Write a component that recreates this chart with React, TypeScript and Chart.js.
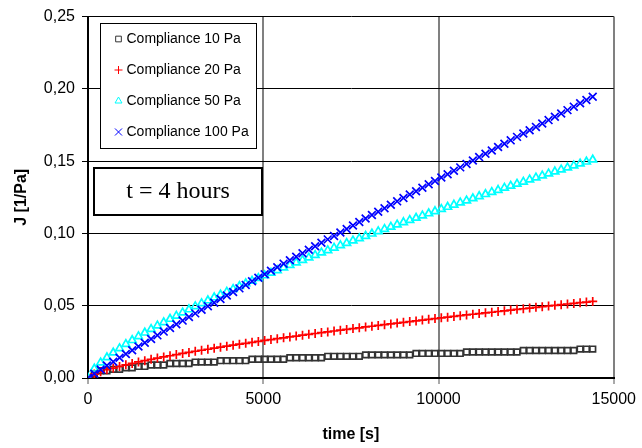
import React, { useEffect, useRef } from "react";
import { Chart, registerables } from "chart.js";

Chart.register(...registerables);

const times = [
  0, 180, 360, 540, 720, 900, 1080, 1260, 1440, 1620, 1800, 1980, 2160, 2340, 2520, 2700, 2880, 3060, 3240, 3420,
  3600, 3780, 3960, 4140, 4320, 4500, 4680, 4860, 5040, 5220, 5400, 5580, 5760, 5940, 6120, 6300, 6480, 6660, 6840, 7020,
  7200, 7380, 7560, 7740, 7920, 8100, 8280, 8460, 8640, 8820, 9000, 9180, 9360, 9540, 9720, 9900, 10080, 10260, 10440, 10620,
  10800, 10980, 11160, 11340, 11520, 11700, 11880, 12060, 12240, 12420, 12600, 12780, 12960, 13140, 13320, 13500, 13680, 13860, 14040, 14220,
  14400,
];

const compliance10 = [
  0, 0.003, 0.005, 0.005, 0.006, 0.006, 0.007, 0.007, 0.008, 0.008,
  0.009, 0.009, 0.009, 0.01, 0.01, 0.01, 0.01, 0.011, 0.011, 0.011,
  0.011, 0.012, 0.012, 0.012, 0.012, 0.012, 0.013, 0.013, 0.013, 0.013,
  0.013, 0.013, 0.014, 0.014, 0.014, 0.014, 0.014, 0.014, 0.015, 0.015,
  0.015, 0.015, 0.015, 0.015, 0.016, 0.016, 0.016, 0.016, 0.016, 0.016,
  0.016, 0.016, 0.017, 0.017, 0.017, 0.017, 0.017, 0.017, 0.017, 0.017,
  0.018, 0.018, 0.018, 0.018, 0.018, 0.018, 0.018, 0.018, 0.018, 0.019,
  0.019, 0.019, 0.019, 0.019, 0.019, 0.019, 0.019, 0.019, 0.02, 0.02,
  0.02,
];

const compliance20 = [
  0, 0.0027, 0.0043, 0.0057, 0.0069, 0.008, 0.0091, 0.0101, 0.0111, 0.012,
  0.0129, 0.0138, 0.0146, 0.0154, 0.0162, 0.017, 0.0177, 0.0185, 0.0192, 0.0199,
  0.0206, 0.0213, 0.022, 0.0227, 0.0234, 0.024, 0.0247, 0.0253, 0.026, 0.0266,
  0.0272, 0.0278, 0.0284, 0.029, 0.0296, 0.0302, 0.0308, 0.0314, 0.0319, 0.0325,
  0.0331, 0.0336, 0.0342, 0.0347, 0.0353, 0.0358, 0.0364, 0.0369, 0.0374, 0.038,
  0.0385, 0.039, 0.0395, 0.0401, 0.0406, 0.0411, 0.0416, 0.0421, 0.0426, 0.0431,
  0.0436, 0.0441, 0.0446, 0.0451, 0.0455, 0.046, 0.0465, 0.047, 0.0475, 0.0479,
  0.0484, 0.0489, 0.0493, 0.0498, 0.0503, 0.0507, 0.0512, 0.0516, 0.0521, 0.0525,
  0.053,
];

const compliance50 = [
  0, 0.0064, 0.0106, 0.0142, 0.0175, 0.0205, 0.0234, 0.0261, 0.0288, 0.0313,
  0.0338, 0.0362, 0.0385, 0.0408, 0.043, 0.0452, 0.0474, 0.0495, 0.0516, 0.0536,
  0.0557, 0.0576, 0.0596, 0.0615, 0.0635, 0.0654, 0.0672, 0.0691, 0.0709, 0.0727,
  0.0745, 0.0763, 0.0781, 0.0798, 0.0815, 0.0833, 0.085, 0.0867, 0.0883, 0.09,
  0.0917, 0.0933, 0.095, 0.0966, 0.0982, 0.0998, 0.1014, 0.103, 0.1045, 0.1061,
  0.1077, 0.1092, 0.1107, 0.1123, 0.1138, 0.1153, 0.1168, 0.1183, 0.1198, 0.1213,
  0.1227, 0.1242, 0.1257, 0.1271, 0.1286, 0.13, 0.1315, 0.1329, 0.1343, 0.1357,
  0.1372, 0.1386, 0.14, 0.1414, 0.1428, 0.1441, 0.1455, 0.1469, 0.1483, 0.1496,
  0.151,
];

const compliance100 = [
  0, 0.003, 0.0059, 0.0086, 0.0113, 0.014, 0.0166, 0.0192, 0.0218, 0.0244,
  0.027, 0.0295, 0.0321, 0.0346, 0.0372, 0.0397, 0.0422, 0.0447, 0.0472, 0.0497,
  0.0521, 0.0546, 0.0571, 0.0595, 0.062, 0.0644, 0.0669, 0.0693, 0.0718, 0.0742,
  0.0766, 0.0791, 0.0815, 0.0839, 0.0863, 0.0887, 0.0911, 0.0935, 0.0959, 0.0983,
  0.1007, 0.1031, 0.1055, 0.1079, 0.1103, 0.1127, 0.115, 0.1174, 0.1198, 0.1222,
  0.1245, 0.1269, 0.1292, 0.1316, 0.134, 0.1363, 0.1387, 0.141, 0.1434, 0.1457,
  0.1481, 0.1504, 0.1528, 0.1551, 0.1574, 0.1598, 0.1621, 0.1644, 0.1668, 0.1691,
  0.1714, 0.1737, 0.1761, 0.1784, 0.1807, 0.183, 0.1853, 0.1877, 0.19, 0.1923,
  0.1946,
];

const seriesLabels = ["Compliance 10 Pa", "Compliance 20 Pa", "Compliance 50 Pa", "Compliance 100 Pa"];
const xTickLabels = ["0", "5000", "10000", "15000"];
const yTickLabels = ["0,00", "0,05", "0,10", "0,15", "0,20", "0,25"];
const xTitle = "time [s]";
const yTitle = "J [1/Pa]";
const annotationText = "t = 4 hours";

const SANS = '"Liberation Sans", Arial, sans-serif';
const SERIF = '"Liberation Serif", "Times New Roman", serif';

const seriesStyles = [
  { style: "rect", color: "#333333", radius: 4, order: 3 },
  { style: "cross", color: "#ff0000", radius: 4.5, order: 2 },
  { style: "triangle", color: "#00ffff", radius: 4.5, order: 1 },
  { style: "crossRot", color: "#0000ff", radius: 5.5, order: 0 },
];

function drawMarker(ctx: CanvasRenderingContext2D, style: string, x: number, y: number, r: number, color: string) {
  ctx.save();
  ctx.strokeStyle = color;
  ctx.lineWidth = 1;
  ctx.beginPath();
  if (style === "rect") {
    const s = Math.SQRT1_2 * r;
    ctx.rect(x - s, y - s, 2 * s, 2 * s);
  } else if (style === "cross") {
    ctx.moveTo(x - r, y);
    ctx.lineTo(x + r, y);
    ctx.moveTo(x, y - r);
    ctx.lineTo(x, y + r);
  } else if (style === "triangle") {
    ctx.moveTo(x, y - r);
    ctx.lineTo(x + r * 0.866, y + r * 0.5);
    ctx.lineTo(x - r * 0.866, y + r * 0.5);
    ctx.closePath();
  } else {
    const d = r * Math.SQRT1_2;
    ctx.moveTo(x - d, y - d);
    ctx.lineTo(x + d, y + d);
    ctx.moveTo(x + d, y - d);
    ctx.lineTo(x - d, y + d);
  }
  ctx.stroke();
  ctx.restore();
}

const overlayPlugin = {
  id: "overlayBoxes",
  afterDraw(chart: any) {
    const ctx: CanvasRenderingContext2D = chart.ctx;
    ctx.save();
    // legend box
    ctx.fillStyle = "#ffffff";
    ctx.fillRect(100.5, 23.5, 156, 125);
    ctx.strokeStyle = "#000000";
    ctx.lineWidth = 1;
    ctx.strokeRect(100.5, 23.5, 156, 125);
    const rowsY = [39, 70, 101, 132];
    ctx.font = `14px ${SANS}`;
    ctx.fillStyle = "#000000";
    ctx.textBaseline = "middle";
    ctx.textAlign = "left";
    seriesLabels.forEach((lbl, i) => {
      const st = seriesStyles[i];
      drawMarker(ctx, st.style, 118.5, rowsY[i], st.style === "crossRot" ? 5 : 4, st.color);
      ctx.fillStyle = "#000000";
      ctx.fillText(lbl, 126.5, rowsY[i] + 0.5);
    });
    // annotation box
    ctx.fillStyle = "#ffffff";
    ctx.fillRect(94, 168, 168, 47);
    ctx.lineWidth = 2;
    ctx.strokeStyle = "#000000";
    ctx.strokeRect(94, 168, 168, 47);
    ctx.font = `24px ${SERIF}`;
    ctx.fillStyle = "#000000";
    ctx.textAlign = "center";
    ctx.textBaseline = "middle";
    ctx.fillText(annotationText, 178, 192);
    ctx.restore();
  },
};

export default function App() {
  const canvasRef = useRef<HTMLCanvasElement | null>(null);

  useEffect(() => {
    if (!canvasRef.current) return;
    const allValues = [compliance10, compliance20, compliance50, compliance100];
    const datasets = allValues.map((vals, i) => ({
      label: seriesLabels[i],
      data: times.map((t, j) => ({ x: t, y: vals[j] })),
      showLine: false,
      pointStyle: seriesStyles[i].style as any,
      pointRadius: seriesStyles[i].radius,
      pointHoverRadius: seriesStyles[i].radius,
      pointBorderWidth: 1.7,
      borderColor: seriesStyles[i].color,
      backgroundColor: "rgba(0,0,0,0)",
      pointBackgroundColor: "rgba(0,0,0,0)",
      pointBorderColor: seriesStyles[i].color,
      order: seriesStyles[i].order,
    }));

    const chart = new Chart(canvasRef.current, {
      type: "scatter",
      data: { datasets },
      plugins: [overlayPlugin],
      options: {
        responsive: false,
        animation: false,
        devicePixelRatio: 1,
        layout: { padding: { left: 0, right: 25, top: 10, bottom: 0 } },
        plugins: {
          legend: { display: false },
          tooltip: { enabled: false },
          title: { display: false },
        },
        scales: {
          x: {
            type: "linear",
            min: 0,
            max: 15000,
            afterFit: (s: any) => {
              s.height = 70;
            },
            ticks: {
              stepSize: 5000,
              color: "#000000",
              font: { family: SANS, size: 16 },
              padding: 6,
              maxRotation: 0,
              callback: (v: any) => xTickLabels[Math.round(Number(v) / 5000)] ?? "",
            },
            grid: {
              color: "#808080",
              lineWidth: 2,
              drawTicks: true,
              tickLength: 6,
              tickColor: "#555555",
              tickWidth: 1,
            },
            border: { display: true, color: "#000000", width: 2 },
            title: {
              display: true,
              text: xTitle,
              color: "#000000",
              font: { family: SANS, size: 16, weight: "bold" },
              padding: { top: 0, bottom: 4 },
            },
          },
          y: {
            type: "linear",
            min: 0,
            max: 0.25,
            afterFit: (s: any) => {
              s.width = 88;
            },
            ticks: {
              stepSize: 0.05,
              color: "#000000",
              font: { family: SANS, size: 16 },
              padding: 7,
              callback: (v: any) => yTickLabels[Math.round(Number(v) / 0.05)] ?? "",
            },
            grid: {
              color: "#000000",
              lineWidth: 1,
              drawTicks: true,
              tickLength: 6,
              tickColor: "#000000",
              tickWidth: 1,
            },
            border: { display: true, color: "#000000", width: 2 },
            title: {
              display: true,
              text: yTitle,
              color: "#000000",
              font: { family: SANS, size: 16, weight: "bold" },
              padding: { top: 12, bottom: 0 },
            },
          },
        },
      },
    });
    return () => chart.destroy();
  }, []);

  return (
    <div style={{ position: "fixed", left: 0, top: 0, width: 642, height: 448, background: "#ffffff" }}>
      <canvas ref={canvasRef} width={642} height={448} style={{ display: "block" }} />
    </div>
  );
}
